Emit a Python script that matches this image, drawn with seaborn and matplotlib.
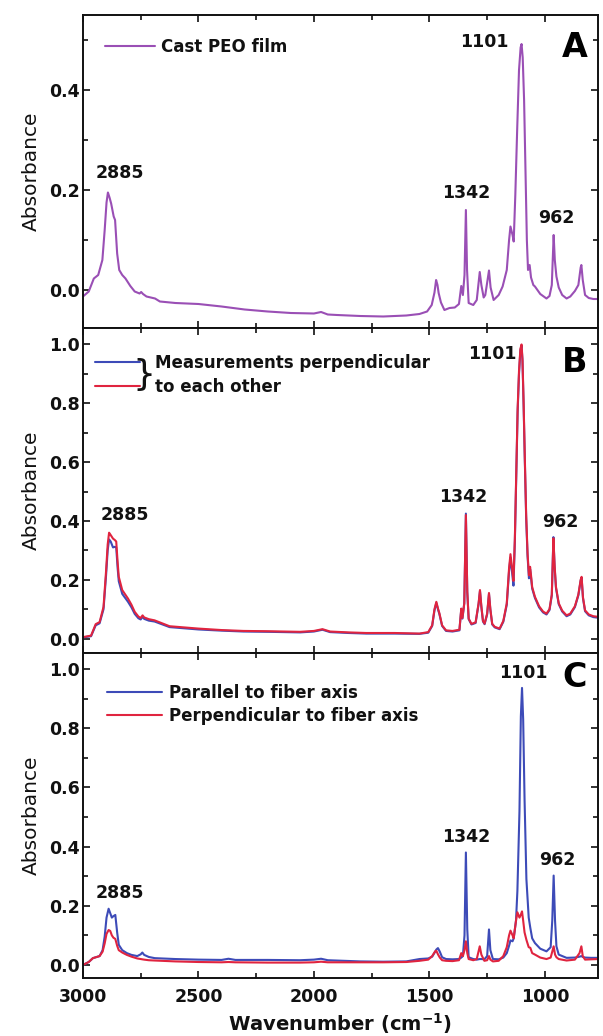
import numpy as np
import pandas as pd
import matplotlib
matplotlib.use("Agg")
import matplotlib.pyplot as plt
from matplotlib.ticker import MultipleLocator
import seaborn as sns

# ---- panel A: cast PEO film ----
a_wn = [3000, 2975, 2953, 2934, 2916, 2906, 2898, 2892, 2885, 2878, 2867, 2861, 2852, 2843,
        2830, 2816, 2795, 2776, 2755, 2748, 2740, 2725, 2688, 2667, 2600, 2500, 2400, 2300,
        2200, 2100, 2000, 1969, 1940, 1900, 1800, 1700, 1600, 1543, 1510, 1490, 1478, 1471,
        1465, 1460, 1450, 1435, 1413, 1390, 1372, 1362, 1355, 1348, 1342, 1337, 1330, 1310,
        1295, 1282, 1275, 1265, 1258, 1242, 1235, 1222, 1200, 1183, 1165, 1155, 1149, 1140,
        1135, 1128, 1120, 1112, 1105, 1101, 1096, 1090, 1084, 1078, 1073, 1066, 1060, 1050,
        1043, 1020, 993, 980, 970, 962, 957, 950, 940, 925, 906, 890, 870, 855, 845, 842,
        836, 826, 810, 790, 770]
a_abs = [-0.013, -0.003, 0.023, 0.030, 0.060, 0.120, 0.175, 0.195, 0.185, 0.173, 0.147, 0.140,
         0.073, 0.040, 0.030, 0.023, 0.008, -0.003, -0.007, -0.004, -0.008, -0.013, -0.017,
         -0.023, -0.026, -0.028, -0.033, -0.039, -0.043, -0.046, -0.047, -0.044, -0.049,
         -0.050, -0.052, -0.053, -0.051, -0.048, -0.043, -0.030, -0.005, 0.020, 0.010, -0.006,
         -0.025, -0.040, -0.036, -0.035, -0.028, 0.008, -0.010, 0.030, 0.160, 0.040, -0.026,
         -0.030, -0.020, 0.036, 0.010, -0.015, -0.010, 0.039, 0.005, -0.020, -0.010, 0.007,
         0.040, 0.100, 0.127, 0.110, 0.097, 0.190, 0.320, 0.440, 0.485, 0.492, 0.465, 0.380,
         0.240, 0.100, 0.040, 0.050, 0.025, 0.010, 0.007, -0.008, -0.017, -0.012, 0.010,
         0.110, 0.060, 0.027, 0.005, -0.010, -0.017, -0.013, -0.002, 0.010, 0.045, 0.050,
         0.020, -0.010, -0.016, -0.018, -0.018]

# ---- panel B: two measurements perpendicular to each other ----
b_wn = [3000, 2965, 2945, 2928, 2911, 2900, 2893, 2887, 2880, 2870, 2862, 2856, 2850, 2845,
        2830, 2805, 2790, 2776, 2760, 2750, 2742, 2735, 2715, 2690, 2625, 2500, 2400, 2305,
        2200, 2060, 2000, 1963, 1930, 1850, 1773, 1650, 1543, 1505, 1488, 1478, 1470, 1462,
        1457, 1445, 1428, 1400, 1370, 1362, 1357, 1349, 1342, 1336, 1330, 1318, 1300, 1287,
        1281, 1275, 1268, 1261, 1250, 1242, 1236, 1228, 1217, 1196, 1180, 1165, 1155, 1149,
        1142, 1136, 1130, 1124, 1118, 1112, 1106, 1101, 1097, 1092, 1087, 1081, 1075, 1069,
        1064, 1060, 1055, 1043, 1025, 1008, 993, 980, 970, 963, 958, 952, 940, 925, 906, 890,
        870, 855, 845, 841, 835, 826, 810, 790, 770]
b_red = [0.005, 0.010, 0.049, 0.056, 0.108, 0.230, 0.320, 0.360, 0.352, 0.340, 0.335, 0.330,
         0.260, 0.210, 0.165, 0.136, 0.115, 0.091, 0.075, 0.070, 0.079, 0.072, 0.066, 0.062,
         0.042, 0.034, 0.029, 0.026, 0.025, 0.023, 0.026, 0.032, 0.024, 0.021, 0.019, 0.019,
         0.017, 0.022, 0.045, 0.100, 0.125, 0.100, 0.087, 0.045, 0.028, 0.026, 0.030, 0.102,
         0.070, 0.120, 0.420, 0.160, 0.068, 0.050, 0.055, 0.120, 0.165, 0.110, 0.060, 0.051,
         0.085, 0.155, 0.100, 0.050, 0.040, 0.034, 0.060, 0.120, 0.240, 0.287, 0.240, 0.196,
         0.340, 0.560, 0.780, 0.910, 0.985, 1.000, 0.950, 0.800, 0.620, 0.420, 0.290, 0.215,
         0.244, 0.215, 0.175, 0.142, 0.110, 0.092, 0.085, 0.100, 0.150, 0.341, 0.250, 0.176,
         0.120, 0.095, 0.079, 0.085, 0.110, 0.150, 0.200, 0.210, 0.140, 0.096, 0.082, 0.076,
         0.074]
b_blue = [0.004, 0.008, 0.045, 0.052, 0.100, 0.215, 0.300, 0.337, 0.330, 0.310, 0.312, 0.310,
          0.240, 0.195, 0.152, 0.125, 0.106, 0.084, 0.069, 0.065, 0.074, 0.067, 0.061, 0.058,
          0.039, 0.031, 0.027, 0.024, 0.023, 0.021, 0.024, 0.030, 0.022, 0.019, 0.017, 0.017,
          0.016, 0.020, 0.043, 0.096, 0.121, 0.097, 0.084, 0.043, 0.026, 0.024, 0.028, 0.100,
          0.068, 0.120, 0.425, 0.158, 0.066, 0.048, 0.053, 0.117, 0.162, 0.107, 0.058, 0.049,
          0.082, 0.152, 0.097, 0.048, 0.038, 0.032, 0.057, 0.115, 0.230, 0.275, 0.225, 0.180,
          0.330, 0.550, 0.770, 0.900, 0.980, 0.995, 0.945, 0.790, 0.610, 0.410, 0.280, 0.205,
          0.236, 0.208, 0.170, 0.138, 0.106, 0.089, 0.082, 0.097, 0.147, 0.345, 0.245, 0.172,
          0.117, 0.092, 0.076, 0.082, 0.107, 0.147, 0.197, 0.207, 0.137, 0.093, 0.079, 0.073,
          0.071]

# ---- panel C: polarised, parallel / perpendicular to fiber axis ----
c_wn = [3000, 2975, 2957, 2928, 2915, 2906, 2898, 2889, 2882, 2875, 2868, 2860, 2852, 2845,
        2830, 2810, 2790, 2765, 2750, 2743, 2735, 2715, 2689, 2600, 2500, 2400, 2370, 2340,
        2200, 2060, 2000, 1969, 1940, 1800, 1700, 1600, 1543, 1505, 1488, 1475, 1470, 1463,
        1455, 1445, 1428, 1400, 1372, 1362, 1355, 1348, 1342, 1336, 1330, 1310, 1295, 1282,
        1275, 1262, 1250, 1242, 1236, 1225, 1200, 1180, 1165, 1155, 1149, 1140, 1135, 1125,
        1119, 1110, 1104, 1099, 1094, 1088, 1080, 1070, 1063, 1055, 1043, 1020, 993, 975, 968,
        962, 956, 950, 940, 906, 870, 850, 842, 836, 826, 800, 770]
c_par = [0.000, 0.010, 0.023, 0.030, 0.050, 0.096, 0.160, 0.190, 0.175, 0.160, 0.165, 0.169,
         0.110, 0.068, 0.050, 0.040, 0.034, 0.030, 0.036, 0.042, 0.034, 0.027, 0.023, 0.020,
         0.018, 0.017, 0.021, 0.017, 0.017, 0.016, 0.018, 0.021, 0.016, 0.012, 0.011, 0.012,
         0.020, 0.022, 0.028, 0.045, 0.052, 0.057, 0.045, 0.026, 0.020, 0.019, 0.020, 0.025,
         0.030, 0.100, 0.380, 0.120, 0.026, 0.020, 0.018, 0.020, 0.020, 0.019, 0.030, 0.120,
         0.050, 0.020, 0.019, 0.025, 0.040, 0.065, 0.083, 0.080, 0.090, 0.150, 0.250, 0.520,
         0.840, 0.936, 0.830, 0.560, 0.290, 0.160, 0.125, 0.090, 0.074, 0.055, 0.046, 0.060,
         0.150, 0.302, 0.150, 0.063, 0.035, 0.024, 0.025, 0.028, 0.030, 0.027, 0.025, 0.024,
         0.024]
c_perp = [0.000, 0.010, 0.023, 0.030, 0.045, 0.073, 0.105, 0.118, 0.115, 0.100, 0.092, 0.088,
          0.065, 0.050, 0.042, 0.034, 0.028, 0.022, 0.020, 0.019, 0.018, 0.016, 0.015, 0.012,
          0.010, 0.009, 0.010, 0.009, 0.008, 0.008, 0.009, 0.011, 0.009, 0.009, 0.009, 0.010,
          0.014, 0.018, 0.030, 0.046, 0.048, 0.036, 0.025, 0.016, 0.014, 0.013, 0.016, 0.040,
          0.030, 0.050, 0.080, 0.040, 0.020, 0.016, 0.020, 0.063, 0.035, 0.014, 0.016, 0.030,
          0.018, 0.012, 0.014, 0.030, 0.060, 0.100, 0.116, 0.100, 0.090, 0.150, 0.178, 0.160,
          0.170, 0.181, 0.150, 0.110, 0.085, 0.060, 0.058, 0.040, 0.035, 0.025, 0.020, 0.025,
          0.045, 0.063, 0.035, 0.026, 0.020, 0.015, 0.018, 0.040, 0.063, 0.030, 0.018, 0.019,
          0.020]

peak_labels = ["2885", "1342", "1101", "962"]
# label anchor positions (wavenumber, absorbance) per panel
a_lab_pos = [(2840, 0.234), (1340, 0.194), (1262, 0.496), (950, 0.144)]
b_lab_pos = [(2818, 0.420), (1353, 0.482), (1227, 0.966), (932, 0.397)]
c_lab_pos = [(2840, 0.243), (1340, 0.432), (1092, 0.986), (945, 0.355)]

purple = "#9A4FB5"
blue = "#3D4BB8"
red = "#E0243F"
ink = "#111111"

sns.set_theme(style="ticks")
plt.rcParams['font.family'] = ['DejaVu Sans']
plt.rcParams['font.weight'] = 'bold'
plt.rcParams['axes.labelweight'] = 'bold'
plt.rcParams['text.color'] = ink
plt.rcParams['axes.labelcolor'] = ink

fig = plt.figure(figsize=(6.03, 10.36), dpi=100)
L, W = 0.1376, 0.8541
ax_a = fig.add_axes([L, 0.6834, W, 0.3021])
ax_b = fig.add_axes([L, 0.3697, W, 0.3137])
ax_c = fig.add_axes([L, 0.0560, W, 0.3137])

lw = 1.5
sns.lineplot(x=a_wn, y=a_abs, ax=ax_a, color=purple, linewidth=lw, label="Cast PEO film")
sns.lineplot(x=b_wn, y=b_blue, ax=ax_b, color=blue, linewidth=lw, label="Measurements perpendicular")
sns.lineplot(x=b_wn, y=b_red, ax=ax_b, color=red, linewidth=lw, label="to each other")
sns.lineplot(x=c_wn, y=c_par, ax=ax_c, color=blue, linewidth=lw, label="Parallel to fiber axis")
sns.lineplot(x=c_wn, y=c_perp, ax=ax_c, color=red, linewidth=lw, label="Perpendicular to fiber axis")

ax_a.set_ylim(-0.076, 0.55)
ax_b.set_ylim(-0.049, 1.056)
ax_c.set_ylim(-0.044, 1.054)

for ax, letter, lpos, ly in [(ax_a, "A", a_lab_pos, 0.895), (ax_b, "B", b_lab_pos, 0.895),
                             (ax_c, "C", c_lab_pos, 0.925)]:
    ax.set_xlim(3000, 770)
    ax.xaxis.set_major_locator(MultipleLocator(500))
    ax.xaxis.set_minor_locator(MultipleLocator(250))
    ax.yaxis.set_major_locator(MultipleLocator(0.2))
    ax.yaxis.set_minor_locator(MultipleLocator(0.1))
    for sp in ax.spines.values():
        sp.set_linewidth(1.4)
        sp.set_color(ink)
    ax.tick_params(which='both', direction='in', top=True, right=True, width=1.2,
                   colors=ink, labelsize=12.5)
    ax.tick_params(which='major', length=5)
    ax.tick_params(which='minor', length=3.5)
    ax.tick_params(axis='y', pad=2)
    ax.tick_params(axis='x', pad=7)
    ax.set_ylabel("Absorbance", fontsize=14.5, fontweight='normal', labelpad=6)
    ax.set_xlabel("")
    ax.text(0.955, ly, letter, transform=ax.transAxes, fontsize=24, fontweight='bold',
            ha='center', va='center', color='black')
    for lab, (xw, yv) in zip(peak_labels, lpos):
        ax.text(xw, yv, lab, fontsize=12.5, fontweight='bold', ha='center', va='center')

ax_a.tick_params(labelbottom=False)
ax_b.tick_params(labelbottom=False)
ax_c.set_xlabel(r"Wavenumber (cm$^{\mathbf{-1}}$)", fontsize=14, labelpad=4)

leg_kw = dict(frameon=False, fontsize=12, borderpad=0, borderaxespad=0, loc='center left')
ax_a.legend(bbox_to_anchor=(0.043, 0.898), handlelength=3.0, handletextpad=0.35, **leg_kw)
ax_b.legend(bbox_to_anchor=(0.023, 0.855), handlelength=2.7, handletextpad=0.9,
            labelspacing=0.35, **leg_kw)
ax_b.text(0.118, 0.855, "}", transform=ax_b.transAxes, fontsize=26, fontweight='normal',
          ha='center', va='center')
ax_c.legend(bbox_to_anchor=(0.047, 0.842), handlelength=3.3, handletextpad=0.4,
            labelspacing=0.33, **leg_kw)

fig.savefig("out.png", dpi=100)
